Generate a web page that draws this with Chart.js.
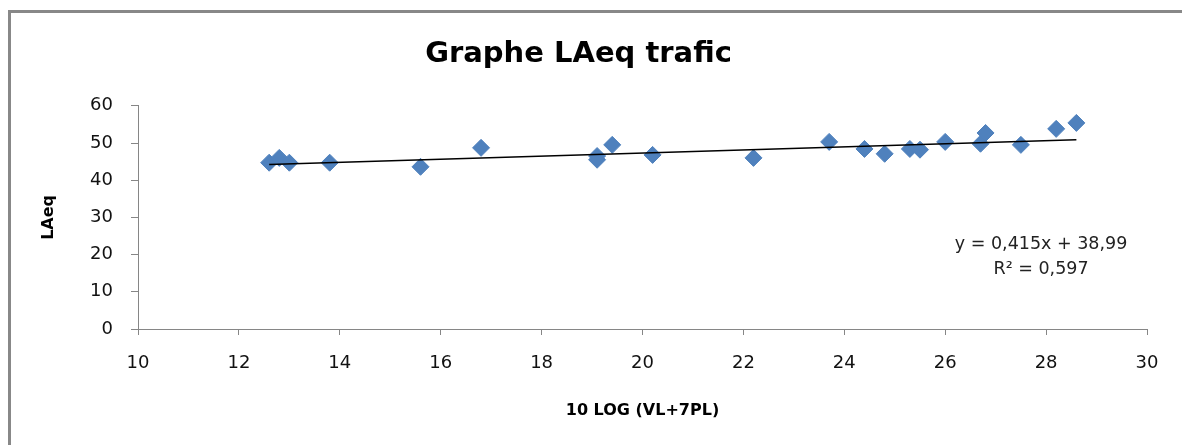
<!DOCTYPE html>
<html>
<head>
<meta charset="utf-8">
<script src="https://cdn.jsdelivr.net/npm/chart.js@4.4.1/dist/chart.umd.min.js"></script>
<style>
  html, body { margin: 0; padding: 0; background: #fff; }
  #wrap { position: relative; width: 1182px; height: 445px; overflow: hidden; }
  #frame {
    position: absolute; left: 8px; top: 10px; width: 1400px; height: 600px;
    border-left: 3px solid #888; border-top: 3px solid #888; pointer-events: none;
  }
</style>
</head>
<body>
<div id="wrap">
  <canvas id="chartCanvas" width="1182" height="445"></canvas>
  <div id="frame"></div>
</div>
<script>
// data
const vlLog = [12.6, 12.8, 13.0, 13.8, 15.6, 16.8, 19.1, 19.1, 19.4, 20.2, 22.2,
  23.7, 24.4, 24.8, 25.3, 25.5, 26.0, 26.7, 26.8, 27.5, 28.2, 28.6];
const laeq = [44.7, 46.0, 44.7, 44.7, 43.6, 48.7, 46.5, 45.5, 49.5, 46.8, 46.0,
  50.3, 48.4, 47.1, 48.4, 48.2, 50.3, 49.8, 52.7, 49.5, 53.8, 55.4];
// trend line ends, as shown on the chart
const trendX = [12.6, 28.6];
const trendY = [44.22, 50.86];
const xTicks = [10, 12, 14, 16, 18, 20, 22, 24, 26, 28, 30];
const yTicks = [0, 10, 20, 30, 40, 50, 60];
const equationLines = ['y = 0,415x + 38,99', 'R\u00b2 = 0,597'];

const axisGray = '#868686';

// writes the trend line equation, like the Excel label
const equationLabel = {
  id: 'equationLabel',
  afterDraw(chart) {
    const { ctx, scales } = chart;
    const cx = scales.x.getPixelForValue(27.9);
    const cy = scales.y.getPixelForValue(22.6);
    ctx.save();
    ctx.font = '17.5px "DejaVu Sans"';
    ctx.fillStyle = '#222';
    ctx.textAlign = 'center';
    ctx.textBaseline = 'middle';
    equationLines.forEach((line, i) => ctx.fillText(line, cx, cy + i * 25));
    ctx.restore();
  }
};

const ctx = document.getElementById('chartCanvas').getContext('2d');
new Chart(ctx, {
  type: 'scatter',
  data: {
    datasets: [
      {
        type: 'line',
        label: 'Tendance',
        data: trendX.map((x, i) => ({ x: x, y: trendY[i] })),
        borderColor: '#000',
        borderWidth: 1.5,
        pointRadius: 0,
        order: 0
      },
      {
        label: 'LAeq',
        data: vlLog.map((x, i) => ({ x: x, y: laeq[i] })),
        pointStyle: 'rectRot',
        pointRadius: 8.5,
        pointBackgroundColor: '#4F81BD',
        pointBorderColor: '#4F81BD',
        pointBorderWidth: 1,
        order: 1
      }
    ]
  },
  options: {
    responsive: false,
    animation: false,
    layout: { padding: { left: 10, right: 35, top: 0, bottom: 0 } },
    plugins: {
      legend: { display: false },
      tooltip: { enabled: false },
      title: {
        display: true,
        text: 'Graphe LAeq trafic',
        color: '#000',
        font: { family: '"DejaVu Sans"', size: 29, weight: 'bold' },
        padding: { top: 37, bottom: 34 }
      }
    },
    scales: {
      x: {
        type: 'linear',
        min: 10,
        max: 30,
        afterBuildTicks: scale => { scale.ticks = xTicks.map(v => ({ value: v })); },
        afterFit: scale => { scale.height = 116; },
        border: { color: axisGray, width: 1 },
        grid: { drawOnChartArea: false, drawTicks: true, tickLength: 6, color: axisGray },
        ticks: {
          color: '#111',
          padding: 18,
          font: { family: '"DejaVu Sans"', size: 18 }
        },
        title: {
          display: true,
          text: '10 LOG (VL+7PL)',
          color: '#000',
          font: { family: '"DejaVu Sans"', size: 16, weight: 'bold' },
          padding: { top: 0, bottom: 25 }
        }
      },
      y: {
        type: 'linear',
        min: 0,
        max: 60,
        afterBuildTicks: scale => { scale.ticks = yTicks.map(v => ({ value: v })); },
        afterFit: scale => { scale.width = 128; },
        border: { color: axisGray, width: 1 },
        grid: { drawOnChartArea: false, drawTicks: true, tickLength: 7, color: axisGray },
        ticks: {
          color: '#111',
          padding: 18,
          font: { family: '"DejaVu Sans"', size: 18 }
        },
        title: {
          display: true,
          text: 'LAeq',
          color: '#000',
          font: { family: '"DejaVu Sans"', size: 16, weight: 'bold' },
          padding: { top: 29, bottom: 0 }
        }
      }
    }
  },
  plugins: [equationLabel]
});
</script>
</body>
</html>
